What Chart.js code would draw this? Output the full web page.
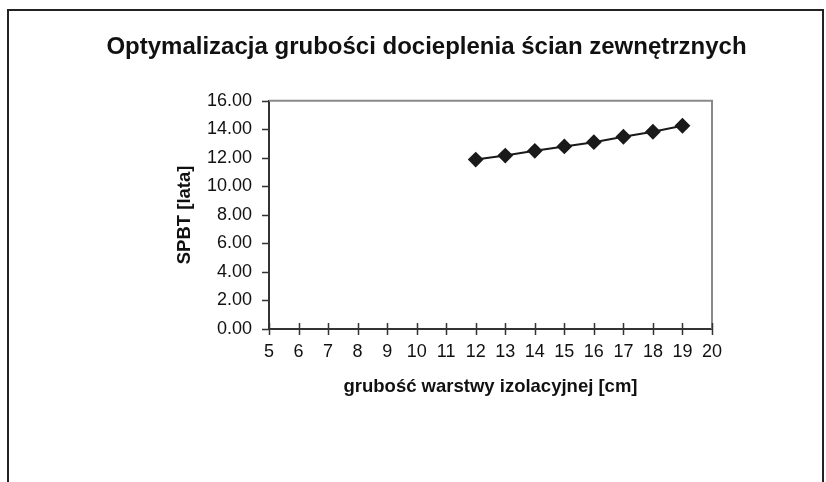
<!DOCTYPE html>
<html>
<head>
<meta charset="utf-8">
<script src="https://cdn.jsdelivr.net/npm/chart.js@4.4.1/dist/chart.umd.min.js"></script>
<style>
  html, body { margin: 0; padding: 0; background: #fff; }
  .wrap { position: relative; width: 826px; height: 482px; }
  .frame { position: absolute; left: 7px; top: 9px; width: 817px; height: 480px;
           border: 2px solid #222; border-bottom: none; box-sizing: border-box; }
  canvas { position: absolute; left: 0; top: 0; }
</style>
</head>
<body>
<div class="wrap">
  <div class="frame"></div>
  <canvas id="spbt" width="826" height="482"></canvas>
</div>
<script>
// grubosc izolacji [cm] i prosty czas zwrotu [lata]
const thickness = [12, 13, 14, 15, 16, 17, 18, 19];
const spbt = [11.88, 12.16, 12.49, 12.80, 13.10, 13.48, 13.83, 14.25];
const xTicks = [5, 6, 7, 8, 9, 10, 11, 12, 13, 14, 15, 16, 17, 18, 19, 20];
const yTicks = [0, 2, 4, 6, 8, 10, 12, 14, 16];

const chartTitle = "Optymalizacja grubości docieplenia ścian zewnętrznych";
const xTitle = "grubość warstwy izolacyjnej [cm]";
const yTitle = "SPBT [lata]";

Chart.defaults.font.family = "'Liberation Sans', Arial, sans-serif";
Chart.defaults.color = "#111";

// ramka obszaru wykresu + znaczniki osi (jak w Excelu)
const axisMarks = {
  id: "axisMarks",
  afterDraw(chart) {
    const {ctx, chartArea: a, scales: {x, y}} = chart;
    ctx.save();
    ctx.strokeStyle = "#8a8a8a";
    ctx.lineWidth = 2;
    ctx.beginPath();
    ctx.moveTo(a.left, a.top);
    ctx.lineTo(a.right, a.top);
    ctx.lineTo(a.right, a.bottom);
    ctx.stroke();

    ctx.strokeStyle = "#333";
    ctx.lineWidth = 1.5;
    ctx.beginPath();
    xTicks.forEach(v => {
      const px = Math.round(x.getPixelForValue(v)) + 0.5;
      ctx.moveTo(px, a.bottom - 6);
      ctx.lineTo(px, a.bottom + 6);
    });
    yTicks.forEach(v => {
      const py = Math.round(y.getPixelForValue(v)) + 0.5;
      ctx.moveTo(a.left - 7, py);
      ctx.lineTo(a.left, py);
    });
    ctx.stroke();
    ctx.restore();
  }
};

new Chart(document.getElementById("spbt"), {
  type: "line",
  data: {
    datasets: [{
      label: "SPBT",
      data: thickness.map((t, i) => ({x: t, y: spbt[i]})),
      borderColor: "#1a1a1a",
      backgroundColor: "#1a1a1a",
      borderWidth: 2,
      pointStyle: "rectRot",
      pointRadius: 6.5,
      pointHoverRadius: 6.5,
      tension: 0
    }]
  },
  options: {
    responsive: false,
    animation: false,
    layout: { padding: { left: 27, right: 0, top: 10, bottom: 60 } },
    plugins: {
      legend: { display: false },
      tooltip: { enabled: false },
      title: {
        display: true,
        text: chartTitle,
        color: "#111",
        font: { size: 24, weight: "bold" },
        padding: { top: 23, bottom: 39 }
      }
    },
    scales: {
      x: {
        type: "linear",
        min: 5,
        max: 20,
        afterBuildTicks: s => { s.ticks = xTicks.map(v => ({value: v})); },
        afterFit: s => { s.height = 482 - 60 - 329; },
        grid: { display: true, drawOnChartArea: false, drawTicks: false },
        border: { display: true, color: "#333", width: 2 },
        ticks: { color: "#111", font: { size: 18 }, padding: 12, maxRotation: 0, autoSkip: false },
        title: {
          display: true,
          text: xTitle,
          color: "#111",
          font: { size: 18.5, weight: "bold" },
          padding: { top: 0, bottom: 24 }
        }
      },
      y: {
        min: 0,
        max: 16,
        afterBuildTicks: s => { s.ticks = yTicks.map(v => ({value: v})); },
        afterFit: s => { s.width = 269 - 27; },
        grid: { display: true, drawOnChartArea: false, drawTicks: false },
        border: { display: true, color: "#333", width: 2 },
        ticks: { color: "#111", font: { size: 18 }, padding: 17,
                 callback: v => v.toFixed(2) },
        title: {
          display: true,
          text: yTitle,
          color: "#111",
          font: { size: 18.5, weight: "bold" },
          padding: { top: 147, bottom: 0 }
        }
      },
      // pusta os po prawej - tylko rezerwuje miejsce
      yRight: {
        position: "right",
        afterFit: s => { s.width = 826 - 712; },
        grid: { display: false },
        border: { display: false },
        ticks: { display: false },
        title: { display: false }
      }
    }
  },
  plugins: [axisMarks]
});
</script>
</body>
</html>
